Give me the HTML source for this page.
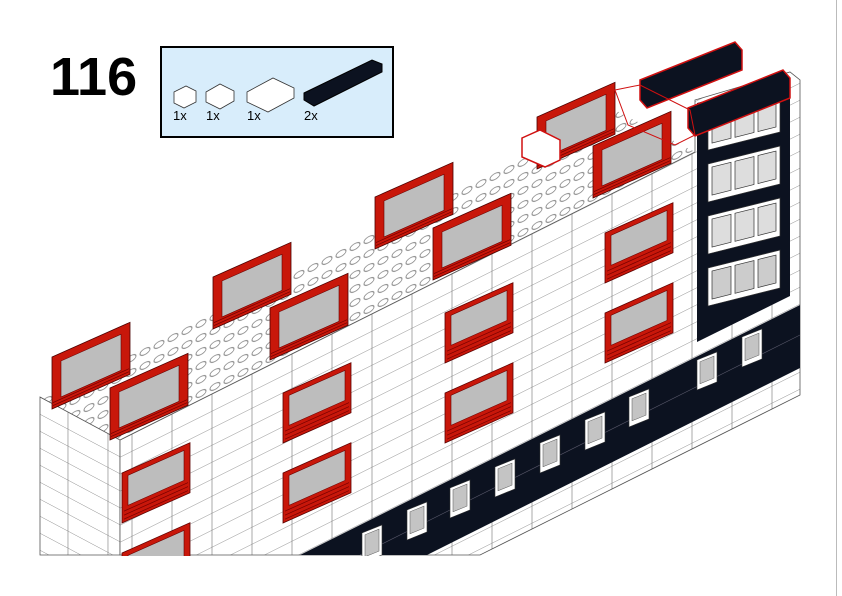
<!DOCTYPE html>
<html><head><meta charset="utf-8"><style>
html,body{margin:0;padding:0;background:#fff}
svg{display:block}
</style></head><body>
<svg width="842" height="596" viewBox="0 0 842 596" xmlns="http://www.w3.org/2000/svg">
<defs>
<pattern id="brk" width="40" height="17" patternUnits="userSpaceOnUse" patternTransform="translate(120,440) skewY(-26.57)">
<rect width="40" height="17" fill="#fff"/>
<line x1="0" y1="0" x2="40" y2="0" stroke="#666" stroke-width="0.8"/>
<line x1="12" y1="0" x2="12" y2="17" stroke="#777" stroke-width="0.6"/>
</pattern>
<pattern id="brkL" width="40" height="17" patternUnits="userSpaceOnUse" patternTransform="translate(40,397) skewY(28)">
<rect width="40" height="17" fill="#fff"/>
<line x1="0" y1="0" x2="40" y2="0" stroke="#666" stroke-width="0.8"/>
<line x1="28" y1="0" x2="28" y2="17" stroke="#777" stroke-width="0.6"/>
</pattern>
<pattern id="stud" width="14" height="14" patternUnits="userSpaceOnUse" patternTransform="translate(40,397) skewY(-26.57)">
<rect width="14" height="14" fill="#fff"/>
<ellipse cx="7" cy="7" rx="5" ry="3" fill="#fff" stroke="#777" stroke-width="0.8"/>
</pattern>
<g id="fw">
<rect x="0" y="0" width="68" height="50" fill="#c8170a" stroke="#5a0000" stroke-width="0.8"/>
<rect x="6" y="5" width="56" height="30" fill="#bdbdbd" stroke="#600" stroke-width="0.6"/>
<line x1="2" y1="39" x2="66" y2="39" stroke="#700" stroke-width="0.8"/>
<line x1="2" y1="43" x2="66" y2="43" stroke="#700" stroke-width="0.8"/>
<line x1="2" y1="47" x2="66" y2="47" stroke="#700" stroke-width="0.8"/>
</g>
<g id="tw">
<rect x="0" y="0" width="78" height="52" fill="#c8170a" stroke="#4a0000" stroke-width="0.8"/>
<rect x="9" y="8" width="60" height="36" fill="#bdbdbd" stroke="#600" stroke-width="0.6"/>
<line x1="1" y1="46" x2="77" y2="46" stroke="#700" stroke-width="0.8"/>
<line x1="1" y1="49" x2="77" y2="49" stroke="#700" stroke-width="0.8"/>
</g>
<g id="bw">
<rect x="0" y="0" width="20" height="30" fill="#fff" stroke="#333" stroke-width="0.6"/>
<rect x="3" y="3" width="14" height="22" fill="#c4c4c4" stroke="#555" stroke-width="0.5"/>
</g>
</defs>

<line x1="836.5" y1="0" x2="836.5" y2="596" stroke="#bbb" stroke-width="1"/>

<!-- top stud surface -->
<polygon points="40,397 615,110 695,152 120,440" fill="url(#stud)"/>
<!-- left end face -->
<polygon points="40,397 120,440 120,555 40,555" fill="url(#brkL)" stroke="#555" stroke-width="0.8"/>
<!-- front face -->
<polygon points="120,440 695,152 695,100 790,72 800,80 800,395 480,555 120,555" fill="url(#brk)" stroke="#555" stroke-width="0.8"/>
<!-- black lower band -->
<polygon points="300,555 800,305 800,368 427,555" fill="#0c1220"/>
<g stroke="#556" stroke-width="0.6">
<line x1="360" y1="555" x2="800" y2="335"/>
</g>
<!-- right black column -->
<polygon points="697,103 790,80 790,296 697,342" fill="#0c1220"/>
<g fill="#fff" stroke="#333" stroke-width="0.7">
<g transform="translate(708,112) skewY(-14)"><rect width="72" height="38"/><rect x="4" y="4" width="19" height="28" fill="#ddd"/><rect x="27" y="4" width="19" height="28" fill="#ddd"/><rect x="50" y="4" width="18" height="28" fill="#ddd"/></g>
<g transform="translate(708,164) skewY(-14)"><rect width="72" height="38"/><rect x="4" y="4" width="19" height="28" fill="#ddd"/><rect x="27" y="4" width="19" height="28" fill="#ddd"/><rect x="50" y="4" width="18" height="28" fill="#ddd"/></g>
<g transform="translate(708,216) skewY(-14)"><rect width="72" height="38"/><rect x="4" y="4" width="19" height="28" fill="#ddd"/><rect x="27" y="4" width="19" height="28" fill="#ddd"/><rect x="50" y="4" width="18" height="28" fill="#ddd"/></g>
<g transform="translate(708,268) skewY(-14)"><rect width="72" height="38"/><rect x="4" y="4" width="19" height="28" fill="#ccc"/><rect x="27" y="4" width="19" height="28" fill="#ccc"/><rect x="50" y="4" width="18" height="28" fill="#ccc"/></g>
</g>

<!-- front face windows -->
<use href="#fw" transform="translate(122,473) skewY(-24)"/>
<use href="#fw" transform="translate(283,393) skewY(-24)"/>
<use href="#fw" transform="translate(445,313) skewY(-24)"/>
<use href="#fw" transform="translate(605,233) skewY(-24)"/>
<use href="#fw" transform="translate(122,553) skewY(-24)"/>
<use href="#fw" transform="translate(283,473) skewY(-24)"/>
<use href="#fw" transform="translate(445,393) skewY(-24)"/>
<use href="#fw" transform="translate(605,313) skewY(-24)"/>

<!-- black band windows -->
<use href="#bw" transform="translate(362,533) skewY(-22)"/>
<use href="#bw" transform="translate(407,510) skewY(-22)"/>
<use href="#bw" transform="translate(450,488) skewY(-22)"/>
<use href="#bw" transform="translate(495,467) skewY(-22)"/>
<use href="#bw" transform="translate(540,443) skewY(-22)"/>
<use href="#bw" transform="translate(585,420) skewY(-22)"/>
<use href="#bw" transform="translate(629,397) skewY(-22)"/>
<use href="#bw" transform="translate(697,360) skewY(-22)"/>
<use href="#bw" transform="translate(742,337) skewY(-22)"/>
<rect x="0" y="556" width="836" height="40" fill="#fff"/>

<!-- back top windows -->
<use href="#tw" transform="translate(52,357) skewY(-24)"/>
<use href="#tw" transform="translate(213,277) skewY(-24)"/>
<use href="#tw" transform="translate(375,197) skewY(-24)"/>
<use href="#tw" transform="translate(537,117) skewY(-24)"/>
<!-- front top windows -->
<use href="#tw" transform="translate(110,388) skewY(-24)"/>
<use href="#tw" transform="translate(270,308) skewY(-24)"/>
<use href="#tw" transform="translate(433,228) skewY(-24)"/>
<use href="#tw" transform="translate(593,146) skewY(-24)"/>

<!-- new parts on top -->
<polygon points="640,80 735,42 742,50 742,70 647,108 640,100" fill="#0c1220" stroke="#d01010" stroke-width="1.5"/>
<polygon points="688,108 783,70 790,78 790,98 695,136 688,128" fill="#0c1220" stroke="#d01010" stroke-width="1.5"/>
<polygon points="522,138 540,130 560,140 560,160 545,167 522,157" fill="#fff" stroke="#d01010" stroke-width="1.5"/>
<polygon points="615,90 640,85 690,110 695,135 675,145 628,125" fill="none" stroke="#d01010" stroke-width="1"/>

<text x="50" y="95" font-family="Liberation Sans, sans-serif" font-weight="bold" font-size="54" fill="#000">116</text>

<rect x="161" y="47" width="232" height="90" fill="#d8edfb" stroke="#000" stroke-width="2"/>
<g stroke="#333" stroke-width="0.8" fill="#fff">
<polygon points="174,92 186,86 196,91 196,102 184,108 174,103"/>
<polygon points="206,92 220,84 234,91 234,101 220,109 206,102"/>
<polygon points="247,92 273,78 294,88 294,98 268,112 247,102"/>
</g>
<polygon points="304,93 372,60 382,64 382,72 314,106 304,100" fill="#0c1220" stroke="#000"/>
<g font-family="Liberation Sans, sans-serif" font-size="13" fill="#000">
<text x="173" y="120">1x</text><text x="206" y="120">1x</text><text x="247" y="120">1x</text><text x="304" y="120">2x</text>
</g>
</svg>
</body></html>
